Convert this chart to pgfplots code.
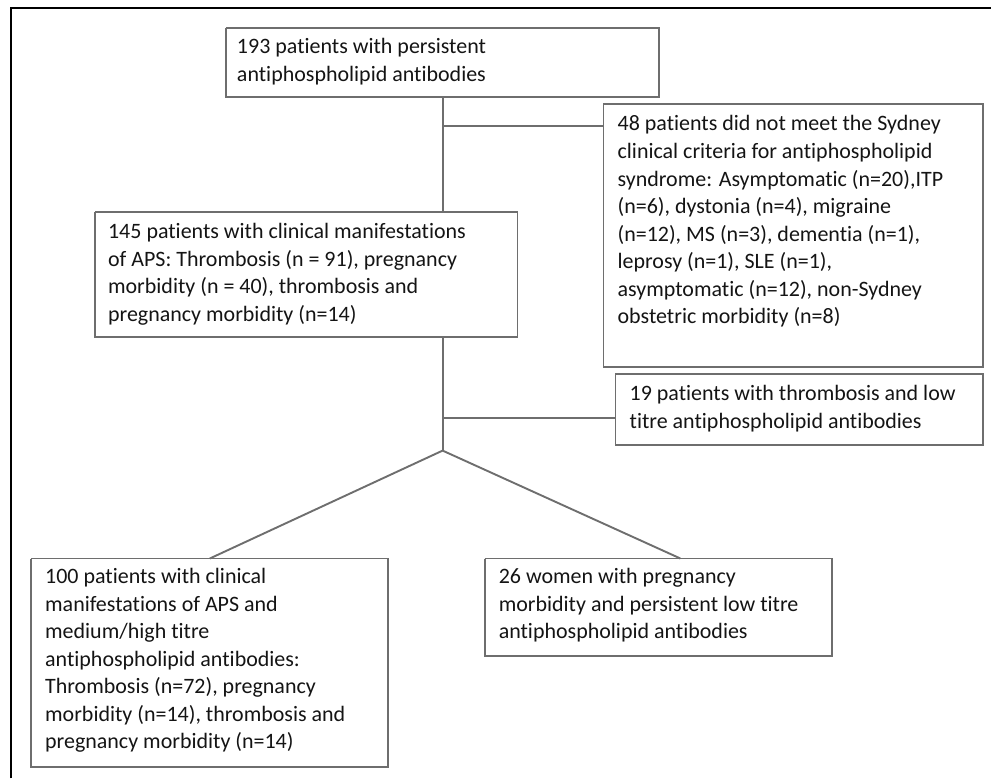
\documentclass[border=0pt]{standalone}
\usepackage{pgfplots}
\pgfplotsset{compat=1.18}
\usepackage{fontspec}
\setmainfont{Carlito}[Ligatures=CommonOff]
\definecolor{boxc}{RGB}{110,110,110}
\definecolor{txt}{RGB}{20,20,20}
\newcommand{\fs}{\fontsize{22}{27.6}\selectfont}
\tikzset{tx/.style={font=\fs, text=txt, anchor=north west, inner sep=0pt, align=left}}
\begin{document}
\begin{tikzpicture}
\begin{axis}[
  x=1pt, y=1pt, y dir=reverse,
  xmin=0, xmax=992, ymin=0, ymax=779,
  hide axis, clip=false,
  bx/.style={draw=boxc, line width=1.9pt, line join=miter},
  ln/.style={draw=boxc, line width=1.9pt}
]
% invisible extent
\addplot[draw=none] coordinates {(0,0) (992,779)};
% outer frame (top and left)
\addplot[black, line width=1.8pt] coordinates {(11,779) (11,8) (992,8)};
% connectors
\addplot[ln] coordinates {(443,97) (443,212)};
\addplot[ln] coordinates {(443,126) (604,126)};
\addplot[ln] coordinates {(443,337) (443,451)};
\addplot[ln] coordinates {(443,418) (616,418)};
\addplot[ln] coordinates {(210,559) (443,451) (681,559)};
% boxes
\addplot[bx] coordinates {(226,28) (660,28) (660,97) (226,97) (226,28)};
\addplot[bx] coordinates {(604,104) (984,104) (984,367) (604,367) (604,104)};
\addplot[bx] coordinates {(95,212) (518,212) (518,337) (95,337) (95,212)};
\addplot[bx] coordinates {(616,374) (984,374) (984,445) (616,445) (616,374)};
\addplot[bx] coordinates {(31,559) (388,559) (388,768) (31,768) (31,559)};
\addplot[bx] coordinates {(485,559) (833,559) (833,657) (485,657) (485,559)};
% texts
\node[tx] at (axis cs:237,38.5) {193 patients with persistent\\antiphospholipid antibodies};
\node[tx] at (axis cs:618,115.5) {48 patients did not meet the Sydney\\clinical criteria for antiphospholipid\\syndrome: Asymptomatic (n=20),ITP\\(n=6), dystonia (n=4), migraine\\(n=12), MS (n=3), dementia (n=1),\\leprosy (n=1), SLE (n=1),\\asymptomatic (n=12), non-Sydney\\obstetric morbidity (n=8)};
\node[tx] at (axis cs:108,223.5) {145 patients with clinical manifestations\\of APS: Thrombosis (n = 91), pregnancy\\morbidity (n = 40), thrombosis and\\pregnancy morbidity (n=14)};
\node[tx] at (axis cs:630,385.5) {19 patients with thrombosis and low\\titre antiphospholipid antibodies};
\node[tx] at (axis cs:45,568.5) {100 patients with clinical\\manifestations of APS and\\medium/high titre\\antiphospholipid antibodies:\\Thrombosis (n=72), pregnancy\\morbidity (n=14), thrombosis and\\pregnancy morbidity (n=14)};
\node[tx] at (axis cs:499,568.5) {26 women with pregnancy\\morbidity and persistent low titre\\antiphospholipid antibodies};
\end{axis}
\end{tikzpicture}
\end{document}
